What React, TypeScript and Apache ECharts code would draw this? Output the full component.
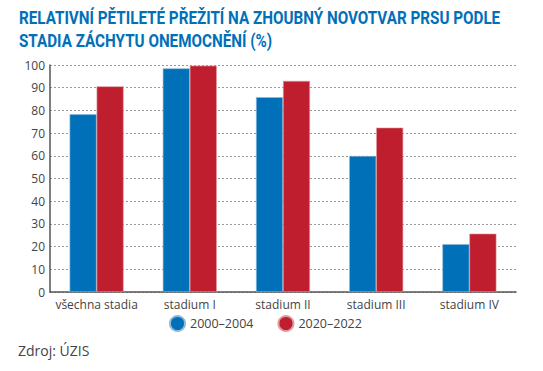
import React, { useEffect, useRef } from "react";
import * as echarts from "echarts";

const titleLines = ["RELATIVNÍ PĚTILETÉ PŘEŽITÍ NA ZHOUBNÝ NOVOTVAR PRSU PODLE", "STADIA ZÁCHYTU ONEMOCNĚNÍ (%)"];
const sourceText = "Zdroj: ÚZIS";
const categories = ["všechna stadia", "stadium I", "stadium II", "stadium III", "stadium IV"];
const seriesNames = ["2000–2004", "2020–2022"];
const values2000 = [78.3, 98.5, 85.8, 59.9, 21.1];
const values2020 = [90.6, 99.7, 93.0, 72.4, 25.7];

const BLUE = "#0070b9";
const RED = "#be1e2d";
const FONT = "'Open Sans', 'Noto Sans', sans-serif";
const TITLE_FONT = "bold 18px Roboto, 'Liberation Sans', sans-serif";

export default function App() {
  const ref = useRef<HTMLDivElement>(null);
  useEffect(() => {
    if (!ref.current) return;
    const chart = echarts.init(ref.current, undefined, { renderer: "svg" });
    chart.setOption({
      animation: false,
      backgroundColor: "#ffffff",
      legend: {
        data: seriesNames,
        bottom: 34,
        left: 164,
        icon: "circle",
        itemWidth: 15,
        itemHeight: 15,
        itemGap: 24,
        textStyle: { color: "#444", fontFamily: FONT, fontSize: 12.5 },
      },
      graphic: [
        {
          type: "text",
          x: 19,
          y: 9,
          scaleX: 0.846,
          style: { text: titleLines[0], fill: BLUE, font: TITLE_FONT },
        },
        {
          type: "text",
          x: 19,
          y: 32,
          scaleX: 0.846,
          style: { text: titleLines[1], fill: BLUE, font: TITLE_FONT },
        },
        {
          type: "text",
          left: 18,
          top: 343,
          style: { text: sourceText, fill: "#444", font: `14px ${FONT}` },
        },
      ],
      grid: { left: 50, right: 27, top: 65, bottom: 79 },
      xAxis: {
        type: "category",
        data: categories,
        axisLine: { lineStyle: { color: "#555", width: 1.5 } },
        axisTick: { show: false },
        axisLabel: { color: "#444", fontFamily: FONT, fontSize: 12, margin: 6, interval: 0 },
      },
      yAxis: {
        type: "value",
        min: 0,
        max: 100,
        interval: 10,
        axisLine: { show: true, lineStyle: { color: "#555", width: 1.5 } },
        axisTick: { show: false },
        axisLabel: { color: "#444", fontFamily: FONT, fontSize: 12, margin: 5 },
        splitLine: { lineStyle: { color: "#999", type: [2, 2], width: 1 } },
      },
      series: [
        {
          name: seriesNames[0],
          type: "bar",
          data: values2000,
          barWidth: 27,
          barGap: "0%",
          itemStyle: { color: BLUE, borderColor: "#8fb8da", borderWidth: 0.6 },
        },
        {
          name: seriesNames[1],
          type: "bar",
          data: values2020,
          barWidth: 27,
          itemStyle: { color: RED, borderColor: "#e09aa0", borderWidth: 0.6 },
        },
      ],
    });
    return () => chart.dispose();
  }, []);
  return <div ref={ref} style={{ width: 543, height: 371, position: "absolute", left: 0, top: 0 }} />;
}
